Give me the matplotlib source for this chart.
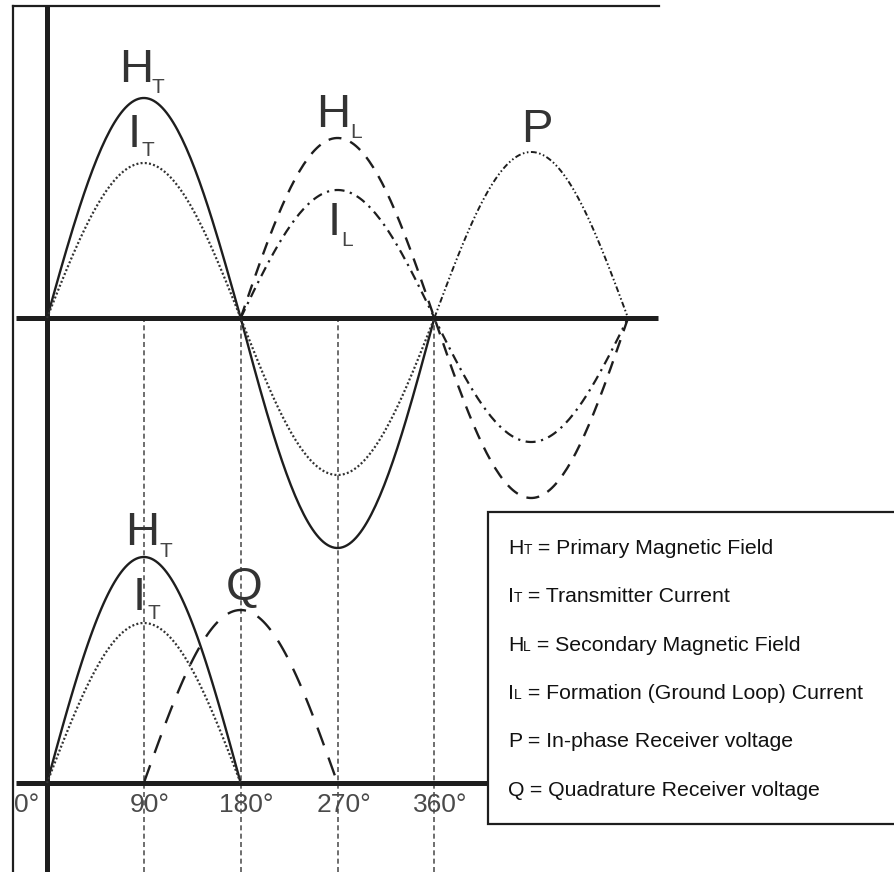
import numpy as np
import matplotlib
matplotlib.use("Agg")
import matplotlib.pyplot as plt
from matplotlib.lines import Line2D
from matplotlib.patches import Rectangle

plt.rcParams['font.family'] = ['Liberation Sans', 'DejaVu Sans']

W, H = 894, 872

# phase ticks along the lower axis
tick_deg = [0, 90, 180, 270, 360]
tick_labels = ["0°", "90°", "180°", "270°", "360°"]
guide_deg = [90, 180, 270, 360]

# each curve: start phase (deg) and signed peak of every half cycle
ht_start, ht_peaks = 0, [2.20, -2.30]
it_start, it_peaks = 0, [1.55, -1.57]
hl_start, hl_peaks = 180, [1.80, -1.80]
il_start, il_peaks = 180, [1.28, -1.24]
p_start, p_peaks = 360, [1.66]

# lower panel (quadrature)
ht2_start, ht2_peaks = 0, [2.26]
it2_start, it2_peaks = 0, [1.60]
q_start, q_peaks = 90, [1.73]

legend_rows = [
    ("H", "T", " = Primary Magnetic Field"),
    ("I", "T", " = Transmitter Current"),
    ("H", "L", " = Secondary Magnetic Field"),
    ("I", "L", " = Formation (Ground Loop) Current"),
    ("P", "", " = In-phase Receiver voltage"),
    ("Q", "", " = Quadrature Receiver voltage"),
]


def half_waves(start, peaks, n=90):
    xs, ys = [], []
    for k, pk in enumerate(peaks):
        t = np.linspace(0, 180, n)
        xs.append(start + 180 * k + t)
        ys.append(pk * np.sin(np.radians(t)))
    return np.concatenate(xs), np.concatenate(ys)


# pixel <-> degree mapping of the drawing
x0_px, px_per_deg = 47.0, 1.076
def deg(px):
    return (px - x0_px) / px_per_deg

fig = plt.figure(figsize=(W / 100, H / 100), dpi=100)

# upper panel: baseline at y px 318, 100 px per unit
ax = fig.add_axes([0, 0, 1, 1])
ax.set_xlim(deg(0), deg(W))
ax.set_ylim((318 - H) / 100, 318 / 100)
ax.axis("off")

# lower panel: baseline at y px 783
ax2 = fig.add_axes([0, 0, 1, 1])
ax2.set_xlim(deg(0), deg(W))
ax2.set_ylim((783 - H) / 100, 783 / 100)
ax2.axis("off")
ax2.patch.set_alpha(0)

ink = "#1e1e1e"

# guide lines
for d in guide_deg:
    ax.vlines(d, (318 - H) / 100, 0, color="#555555", lw=1.2,
              linestyle=(0, (3, 2)))

# axes lines
ax.hlines(0, deg(16), deg(658), color=ink, lw=3.6)
ax2.hlines(0, deg(16), deg(488), color=ink, lw=3.6)
ax.axvline(0, ymin=0, ymax=1 - 9 / H, color=ink, lw=3.6)

# upper curves
x, y = half_waves(ht_start, ht_peaks)
ax.plot(x, y, color=ink, lw=1.7)
x, y = half_waves(it_start, it_peaks)
ax.plot(x, y, color="#333333", lw=1.6, linestyle=(0, (0.9, 1.0)))
x, y = half_waves(hl_start, hl_peaks)
ax.plot(x, y, color=ink, lw=1.7, linestyle=(0, (5.5, 4)))
x, y = half_waves(il_start, il_peaks)
ax.plot(x, y, color=ink, lw=1.6, linestyle=(0, (4.5, 2.5, 1, 2.5)))
x, y = half_waves(p_start, p_peaks)
ax.plot(x, y, color=ink, lw=1.4, linestyle=(0, (3, 1.3, 0.8, 1.3, 0.8, 1.3)))

# lower curves
x, y = half_waves(ht2_start, ht2_peaks)
ax2.plot(x, y, color=ink, lw=1.7)
x, y = half_waves(it2_start, it2_peaks)
ax2.plot(x, y, color="#333333", lw=1.6, linestyle=(0, (0.9, 1.0)))
x, y = half_waves(q_start, q_peaks)
ax2.plot(x, y, color=ink, lw=1.7, linestyle=(0, (8, 5.5)))

# tick labels
for d, lab in zip(tick_deg, tick_labels):
    dx = -20 if d == 0 else 6
    ax2.annotate(lab, (d, 0), xytext=(dx, -29), textcoords="offset pixels",
                 ha="center", va="baseline", fontsize=19, color="#4a4a4a")


def fpos(px, py):
    return px / W, 1 - py / H


# big curve labels: (main, sub, main left, main base, sub left, sub base)
big = [
    ("H", "T", 119, 82, 152, 93),
    ("I", "T", 128, 147, 142, 156),
    ("H", "L", 316, 127, 350, 138),
    ("I", "L", 328, 235, 341, 246),
    ("P", "", 521, 142, 0, 0),
    ("H", "T", 125, 545, 160, 557),
    ("I", "T", 133, 610, 147, 619),
    ("Q", "", 226, 600, 0, 0),
]
for m, s, mx, my, sx, sy in big:
    fig.text(*fpos(mx, my), m, fontsize=34, color="#333333",
             ha="left", va="baseline")
    if s:
        fig.text(*fpos(sx, sy), s, fontsize=15, color="#444444",
                 ha="left", va="baseline")

# frame lines of the picture
fig.add_artist(Line2D([13 / W, 659 / W], [1 - 6 / H, 1 - 6 / H],
                      transform=fig.transFigure, color=ink, lw=1.6))
fig.add_artist(Line2D([13 / W, 13 / W], [1 - 6 / H, 0],
                      transform=fig.transFigure, color=ink, lw=1.6))

# legend box
fig.add_artist(Rectangle((488 / W, 1 - 824 / H), (W + 10 - 488) / W,
                         (824 - 512) / H, transform=fig.transFigure,
                         facecolor="white", edgecolor=ink, lw=1.6))

renderer = fig.canvas.get_renderer()
for i, (m, s, rest) in enumerate(legend_rows):
    base = 554 + 48.3 * i
    t = fig.text(*fpos(508, base), m, fontsize=15.3, color="#111111",
                 ha="left", va="baseline")
    xr = t.get_window_extent(renderer).x1
    if s:
        t = fig.text(xr / W, 1 - base / H, s, fontsize=10, color="#111111",
                     ha="left", va="baseline")
        xr = t.get_window_extent(renderer).x1
    fig.text(xr / W, 1 - base / H, rest, fontsize=15.3, color="#111111",
             ha="left", va="baseline")

fig.savefig("out.png", dpi=100)
